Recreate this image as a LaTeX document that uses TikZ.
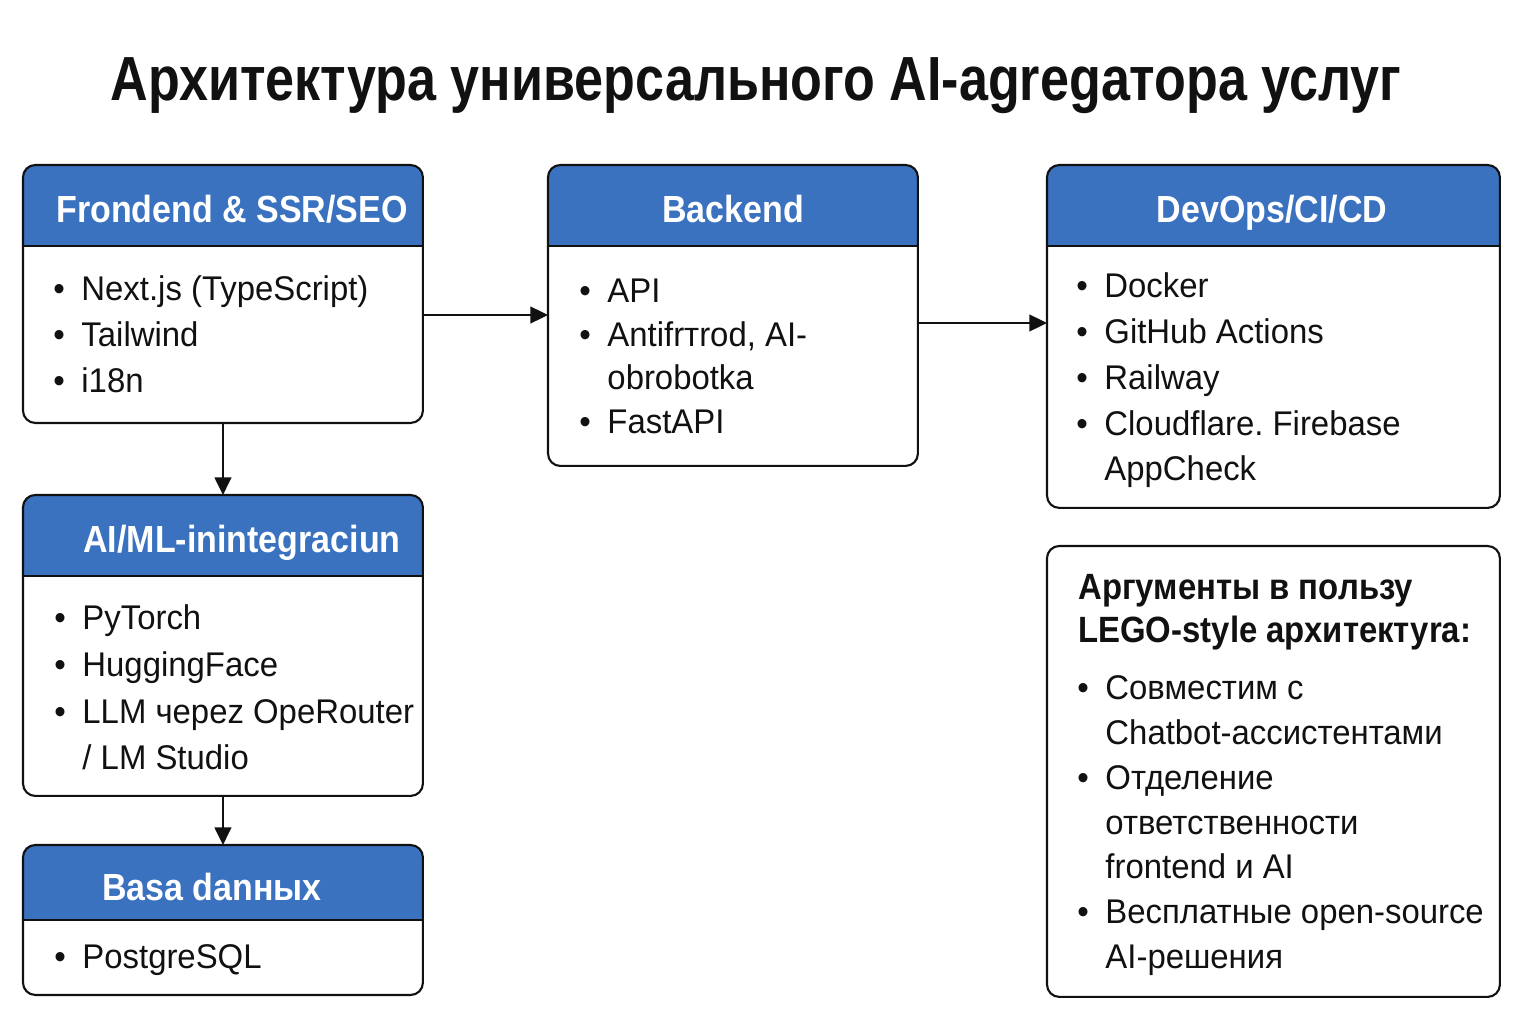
\documentclass[tikz,border=0pt]{standalone}
\usepackage{fontspec}
\setmainfont{Liberation Sans}[FakeStretch=0.96]
\newfontfamily\headfont{Liberation Sans}[FakeStretch=0.9]
\newfontfamily\titlefont{Liberation Sans}[FakeStretch=0.835]
\usetikzlibrary{arrows.meta}

\newcommand{\bul}{\strut\makebox[16pt][l]{\textbullet}}
\newcommand{\cnt}{\hspace*{16pt}}
\frenchspacing

\begin{document}
\begin{tikzpicture}[x=0.02cm, y=-0.02cm,
  card/.style={draw=inkDark, line width=1.2pt, rounded corners=7pt, fill=white,
    inner sep=0pt, outer sep=0pt, anchor=north west},
  head/.style={path picture={
    \fill[hdrBlue, sharp corners] (path picture bounding box.north west)
      rectangle ([yshift=-#1]path picture bounding box.north east);
    \draw[inkDark, line width=1pt, sharp corners] ([yshift=-#1]path picture bounding box.north west)
      -- ([yshift=-#1]path picture bounding box.north east);}},
  headtxt/.style={font=\headfont\bfseries\fontsize{21.5}{26}\selectfont, text=white,
    anchor=base, inner sep=0pt},
  items/.style={font=\fontsize{19.5}{#1}\selectfont, text=inkDark, align=left,
    anchor=north west, inner sep=0pt},
  link/.style={-{Triangle[length=10pt, width=9.5pt]}, line width=1.1pt, draw=inkDark}]

% Colori
\definecolor{hdrBlue}{HTML}{3A72C0}
\definecolor{inkDark}{HTML}{111111}

\useasboundingbox (0,0) rectangle (1536,1024);

% Titolo
\node[font=\titlefont\bfseries\fontsize{35.5}{40}\selectfont, text=inkDark,
  anchor=base, inner sep=0pt] (title) at (756,101)
  {Архитектура универсального AI-agregaтора услуг};

% Blocchi
\node[card, head=1.62cm, minimum width=8cm, minimum height=5.16cm] (fr) at (23,165) {};
\node[card, head=1.62cm, minimum width=7.4cm, minimum height=6.02cm] (be) at (548,165) {};
\node[card, head=1.62cm, minimum width=9.06cm, minimum height=6.86cm] (dv) at (1047,165) {};
\node[card, head=1.62cm, minimum width=8cm, minimum height=6.02cm] (ai) at (23,495) {};
\node[card, head=1.5cm, minimum width=8cm, minimum height=3cm] (db) at (23,845) {};
\node[card, minimum width=9.06cm, minimum height=9.02cm] (arg) at (1047,546) {};

% Intestazioni
\node[headtxt] (frT) at (232,222) {Frondend \& SSR/SEO};
\node[headtxt] (beT) at (733,222) {Backend};
\node[headtxt] (dvT) at (1272,222) {DevOps/CI/CD};
\node[headtxt] (aiT) at (242,552) {AI/ML-inintegraciun};
\node[headtxt] (dbT) at (212,900) {Basa danных};

% Elenchi
\node[items=26.1pt] (frL) at (53,268)
  {\bul Next.js (TypeScript)\\ \bul Tailwind\\ \bul i18n};
\node[items=25pt] (beL) at (579,271)
  {\bul API\\ \bul Antifrтrod, AI-\\ \cnt obrobotka\\ \bul FastAPI};
\node[items=26.1pt] (dvL) at (1076,265)
  {\bul Docker\\ \bul GitHub Actions\\ \bul Railway\\ \bul Cloudflare. Firebase\\ \cnt AppCheck};
\node[items=26.7pt] (aiL) at (54,596)
  {\bul PyTorch\\ \bul HuggingFace\\ \bul LLM черez OpeRouter\\ \cnt / LM Studio};
\node[items=26pt] (dbL) at (54,936) {\bul PostgreSQL};

% Argomenti
\node[font=\headfont\bfseries\fontsize{20.8}{24.4}\selectfont, text=inkDark, align=left,
  anchor=north west, inner sep=0pt] (argT) at (1078,569)
  {\strut Аргументы в пользу\\ LEGO-style архитектуra:};
\node[items=25.5pt] (argL) at (1077,668)
  {\bul Совместим с\\ \cnt Chatbot-ассистентами\\ \bul Отделение\\ \cnt ответственности\\
   \cnt frontend и AI\\ \bul Весплатные open-source\\ \cnt AI-решения};

% Frecce
\draw[link] (fr.east |- 0,315) -- (be.west |- 0,315);
\draw[link] (be.east |- 0,323) -- (dv.west |- 0,323);
\draw[link] (fr.south) -- (ai.north);
\draw[link] (ai.south) -- (db.north);

\end{tikzpicture}
\end{document}
